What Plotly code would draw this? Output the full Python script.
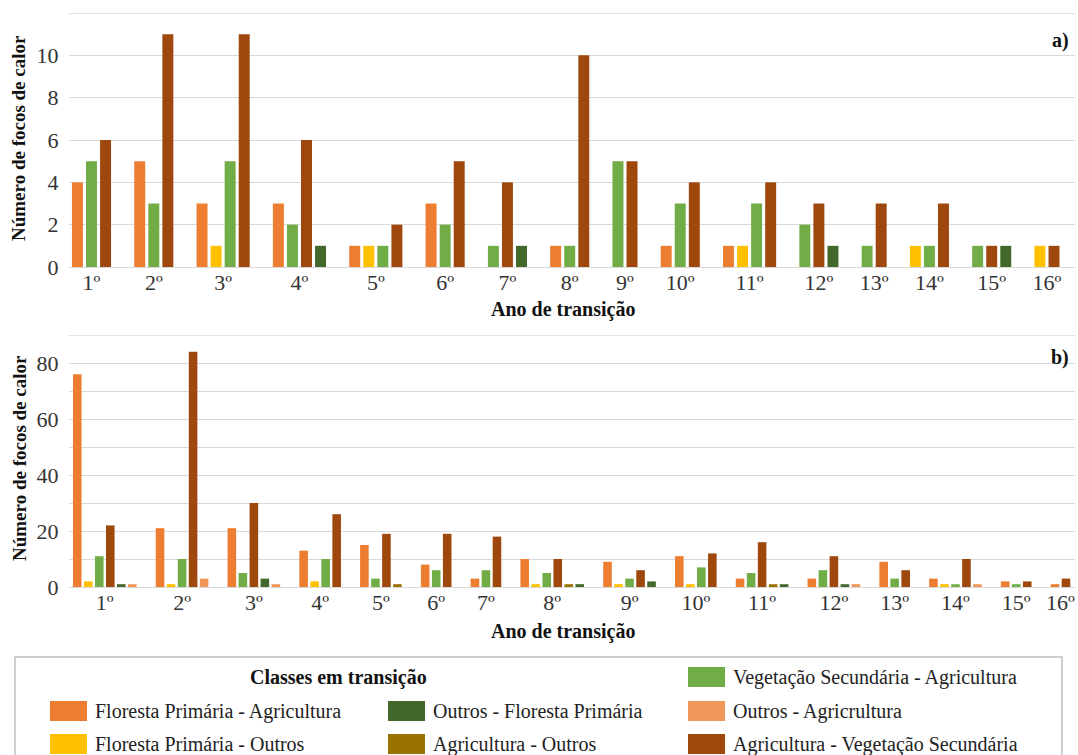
import plotly.graph_objects as go

# ---------------- DATA ----------------
categories = ["1º", "2º", "3º", "4º", "5º", "6º", "7º", "8º",
              "9º", "10º", "11º", "12º", "13º", "14º", "15º", "16º"]

series_names = [
    "Floresta Primária - Agricultura",
    "Floresta Primária - Outros",
    "Vegetação Secundária - Agricultura",
    "Agricultura - Vegetação Secundária",
    "Agricultura - Outros",
    "Outros - Floresta Primária",
    "Outros - Agricrultura",
]

# Panel a)
a_fp_agri   = [4, 5, 3, 3, 1, 3, 0, 1, 0, 1, 1, 0, 0, 0, 0, 0]
a_fp_outros = [0, 0, 1, 0, 1, 0, 0, 0, 0, 0, 1, 0, 0, 1, 0, 1]
a_vs_agri   = [5, 3, 5, 2, 1, 2, 1, 1, 5, 3, 3, 2, 1, 1, 1, 0]
a_agri_vs   = [6, 11, 11, 6, 2, 5, 4, 10, 5, 4, 4, 3, 3, 3, 1, 1]
a_agri_out  = [0, 0, 0, 0, 0, 0, 0, 0, 0, 0, 0, 0, 0, 0, 0, 0]
a_out_fp    = [0, 0, 0, 1, 0, 0, 1, 0, 0, 0, 0, 1, 0, 0, 1, 0]
a_out_agri  = [0, 0, 0, 0, 0, 0, 0, 0, 0, 0, 0, 0, 0, 0, 0, 0]

# Panel b)
b_fp_agri   = [76, 21, 21, 13, 15, 8, 3, 10, 9, 11, 3, 3, 9, 3, 2, 1]
b_fp_outros = [2, 1, 0, 2, 0, 0, 0, 1, 1, 1, 0, 0, 0, 1, 0, 0]
b_vs_agri   = [11, 10, 5, 10, 3, 6, 6, 5, 3, 7, 5, 6, 3, 1, 1, 0]
b_agri_vs   = [22, 84, 30, 26, 19, 19, 18, 10, 6, 12, 16, 11, 6, 10, 2, 3]
b_agri_out  = [0, 0, 0, 0, 1, 0, 0, 1, 0, 0, 1, 0, 0, 0, 0, 0]
b_out_fp    = [1, 0, 3, 0, 0, 0, 0, 1, 2, 0, 1, 1, 0, 0, 0, 0]
b_out_agri  = [1, 3, 1, 0, 0, 0, 0, 0, 0, 0, 0, 1, 0, 1, 0, 0]

a_ticks = [0, 2, 4, 6, 8, 10]
a_top = 12
b_ticks = [0, 20, 40, 60, 80]
b_minor = [10, 30, 50, 70]
b_top = 90

# ---------------- STYLE ----------------
colors = ["#ED7D31", "#FFC000", "#70AD47", "#9E480E", "#997300", "#43682B", "#F1975A"]
FONT = "'Liberation Serif', 'Times New Roman', Times, serif"
W, H = 1078, 755

panel_a = [a_fp_agri, a_fp_outros, a_vs_agri, a_agri_vs, a_agri_out, a_out_fp, a_out_agri]
panel_b = [b_fp_agri, b_fp_outros, b_vs_agri, b_agri_vs, b_agri_out, b_out_fp, b_out_agri]


def layout_positions(panel, gap):
    """Pack the non-zero bars of each category next to each other."""
    n = len(categories)
    xs = [[] for _ in panel]
    ys = [[] for _ in panel]
    centers = []
    x = 0.0
    for i in range(n):
        members = [k for k in range(len(panel)) if panel[k][i] > 0]
        start = x
        for j, k in enumerate(members):
            xs[k].append(x)
            ys[k].append(panel[k][i])
            if j < len(members) - 1:
                x += 1
        centers.append((start + x) / 2)
        x += gap
    last = x - gap
    return xs, ys, centers, last


fig = go.Figure()

panels = [
    (panel_a, 2.43, "x", "y"),
    (panel_b, 2.52, "x2", "y2"),
]
info = []
for panel, gap, xa, ya in panels:
    xs, ys, centers, last = layout_positions(panel, gap)
    info.append((centers, last))
    for k in range(len(panel)):
        fig.add_trace(go.Bar(
            x=xs[k], y=ys[k], width=0.78, name=series_names[k],
            marker=dict(color=colors[k], line=dict(width=0)),
            xaxis=xa, yaxis=ya, showlegend=False,
        ))

(ca, lasta), (cb, lastb) = info

x_dom = [69 / W, 1075 / W]
def ydom(top_px, bot_px):
    return [1 - bot_px / H, 1 - top_px / H]

grid = "#D9D9D9"
tickfont = dict(family=FONT, size=22, color="#333333")
titlefont = dict(family=FONT, size=20, color="#111111")
ytitlefont = dict(family=FONT, size=19, color="#111111")

fig.update_layout(
    width=W, height=H,
    margin=dict(l=0, r=0, t=0, b=0),
    paper_bgcolor="white", plot_bgcolor="white",
    barmode="overlay",
    font=dict(family=FONT),
    xaxis=dict(domain=x_dom, anchor="y", range=[-0.6, lasta + 21 / 14.06],
               tickvals=ca, ticktext=categories, tickfont=tickfont,
               showgrid=False, zeroline=False, showline=False,
               ticks="", automargin=False),
    yaxis=dict(domain=ydom(13, 267), anchor="x", range=[0, a_top],
               tickvals=a_ticks, tickfont=tickfont,
               showgrid=True, gridcolor=grid, gridwidth=1.3,
               zeroline=True, zerolinecolor=grid, zerolinewidth=1.3,
               ticks="outside", ticklen=5, tickcolor="rgba(0,0,0,0)",
               automargin=False),
    xaxis2=dict(domain=x_dom, anchor="y2", range=[-0.75, lastb + 9 / 11.0],
                tickvals=cb, ticktext=categories, tickfont=tickfont,
                showgrid=False, zeroline=False, showline=False,
                ticks="", automargin=False),
    yaxis2=dict(domain=ydom(335, 587), anchor="x2", range=[0, b_top],
                tickvals=b_ticks, tickfont=tickfont,
                showgrid=True, gridcolor=grid, gridwidth=1.3,
                zeroline=True, zerolinecolor=grid, zerolinewidth=1.3,
                minor=dict(tickmode="array", tickvals=b_minor, showgrid=True,
                           gridcolor=grid, gridwidth=1.3, ticks=""),
                ticks="outside", ticklen=5, tickcolor="rgba(0,0,0,0)",
                automargin=False),
)

annotations = []
shapes = []

# top border gridlines
for xr, yr, top in [("x domain", "y", a_top), ("x2 domain", "y2", b_top)]:
    shapes.append(dict(type="line", xref=xr, yref=yr, x0=0, x1=1, y0=top, y1=top,
                       line=dict(color=grid, width=1.3), layer="below"))

def px(x, y):
    return x / W, 1 - y / H

# axis titles
for (ytitle_c, xtitle_y, tag, tag_y) in [(138, 309, "a)", 40), (458, 631, "b)", 357)]:
    x0, y0 = px(19, ytitle_c)
    annotations.append(dict(x=x0, y=y0, xref="paper", yref="paper", text="<b>Número de focos de calor</b>",
                            textangle=-90, showarrow=False, font=ytitlefont,
                            xanchor="center", yanchor="middle"))
    x1, y1 = px(563, xtitle_y)
    annotations.append(dict(x=x1, y=y1, xref="paper", yref="paper", text="<b>Ano de transição</b>",
                            showarrow=False, font=titlefont, xanchor="center", yanchor="middle"))
    x2, y2 = px(1071, tag_y)
    annotations.append(dict(x=x2, y=y2, xref="paper", yref="paper", text=f"<b>{tag}</b>",
                            showarrow=False, font=titlefont, xanchor="right", yanchor="middle"))

# legend box
bx0, by0 = px(15, 657)
bx1, by1 = px(1062, 762)
shapes.append(dict(type="rect", xref="paper", yref="paper", x0=bx0, x1=bx1, y0=by1, y1=by0,
                   line=dict(color="#BFBFBF", width=1.5), fillcolor="rgba(0,0,0,0)"))
tx, ty = px(338, 677)
annotations.append(dict(x=tx, y=ty, xref="paper", yref="paper", text="<b>Classes em transição</b>",
                        showarrow=False, font=dict(family=FONT, size=20, color="#111111"),
                        xanchor="center", yanchor="middle"))

# legend placement: (series index, column swatch x, row y)
legend_slots = [
    (2, 688, 677),
    (0, 50, 711), (5, 388, 711), (6, 688, 711),
    (1, 50, 744), (4, 388, 744), (3, 688, 744),
]
for k, sx, sy in legend_slots:
    x0, y0 = px(sx, sy - 10)
    x1, y1 = px(sx + 37, sy + 10)
    shapes.append(dict(type="rect", xref="paper", yref="paper", x0=x0, x1=x1, y0=y1, y1=y0,
                       line=dict(width=0), fillcolor=colors[k]))
    lx, ly = px(sx + 43, sy)
    annotations.append(dict(x=lx, y=ly, xref="paper", yref="paper", text=series_names[k],
                            showarrow=False, font=dict(family=FONT, size=20, color="#222222"),
                            xanchor="left", yanchor="middle"))

fig.update_layout(annotations=annotations, shapes=shapes)

fig.write_html("out.html", config={"displayModeBar": False},
               post_script="document.body.style.margin='0';document.body.style.overflow='hidden';")
